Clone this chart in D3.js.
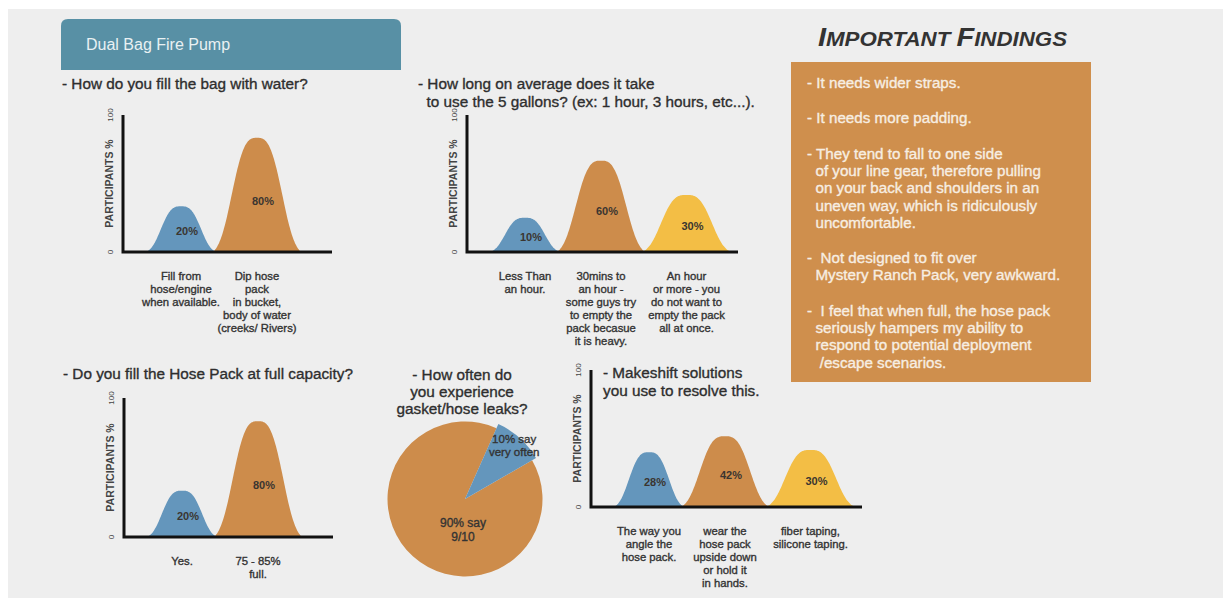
<!DOCTYPE html>
<html>
<head>
<meta charset="utf-8">
<script src="https://cdn.jsdelivr.net/npm/d3@7"></script>
<style>
  body { margin: 0; background: #ffffff; }
  text { font-family: "Liberation Sans", "Noto Sans", sans-serif; }
  .heavy { stroke-width: 0.35px; }
</style>
</head>
<body>
<div id="chart"></div>
<script>
// survey data
let fillCats = ["Fill from\nhose/engine\nwhen available.", "Dip hose\npack\nin bucket,\nbody of water\n(creeks/ Rivers)"];
let fillVals = [20, 80];

let timeCats = ["Less Than\nan hour.", "30mins to\nan hour -\nsome guys try\nto empty the\npack becasue\nit is heavy.", "An hour\nor more - you\ndo not want to\nempty the pack\nall at once."];
let timeVals = [10, 60, 30];

let capCats = ["Yes.", "75 - 85%\nfull."];
let capVals = [20, 80];

let leakLabels = ["10% say\nvery often", "90% say\n9/10"];
let leakVals = [10, 90];

let fixCats = ["The way you\nangle the\nhose pack.", "wear the\nhose pack\nupside down\nor hold it\nin hands.", "fiber taping,\nsilicone taping."];
let fixVals = [28, 42, 30];

let findings = [
  ["- It needs wider straps."],
  ["- It needs more padding."],
  ["- They tend to fall to one side", "  of your line gear, therefore pulling", "  on your back and shoulders in an", "  uneven way, which is ridiculously", "  uncomfortable."],
  ["-  Not designed to fit over", "  Mystery Ranch Pack, very awkward."],
  ["-  I feel that when full, the hose pack", "  seriously hampers my ability to", "  respond to potential deployment", "   /escape scenarios."]
];

let colors = ["#6496bc", "#cd8c4b", "#f3be45"];
let humpW = [70, 88, 89];
let W = 1223, H = 598;

let svg = d3.select("#chart").append("svg")
    .attr("width", W)
    .attr("height", H);

svg.append("rect")
    .attr("x", 8).attr("y", 9)
    .attr("width", W - 8).attr("height", H - 9)
    .attr("fill", "#eeeeee");

// header banner, rounded on top only
let bx = 61, by = 19, bw = 340, bh = 51, br = 7;
svg.append("path")
    .attr("d", "M" + bx + "," + (by + bh) + "V" + (by + br) + "Q" + bx + "," + by + " " + (bx + br) + "," + by +
               "H" + (bx + bw - br) + "Q" + (bx + bw) + "," + by + " " + (bx + bw) + "," + (by + br) + "V" + (by + bh) + "Z")
    .attr("fill", "#5890a5");
svg.append("text")
    .attr("x", 86).attr("y", 50)
    .attr("fill", "#e9f1f3")
    .attr("font-size", 16)
    .text("Dual Bag Fire Pump");

function multiText(g, x, y, str, lh, size, color, anchor, weight) {
  let t = g.append("text")
      .attr("class", "heavy")
      .attr("x", x).attr("y", y)
      .attr("font-size", size)
      .attr("fill", color)
      .attr("stroke", color)
      .attr("text-anchor", anchor || "start")
      .attr("font-weight", weight || 400)
      .style("white-space", "pre");
  str.split("\n").forEach(function(line, i) {
    t.append("tspan").attr("x", x).attr("dy", i == 0 ? 0 : lh).text(line);
  });
  return t;
}

function humpChart(cfg, cats, vals) {
  let g = svg.append("g");
  let axisY = d3.scaleLinear().domain([0, 100]).range([cfg.base, cfg.top]);
  // humps sit on a small pedestal so small values stay visible
  let humpY = d3.scaleLinear().domain([-20, 100]).range([cfg.base, cfg.top]);
  let s = 0.66, p = 3;
  let e = Math.exp(-Math.pow(1 / s, p));
  let bump = function(t) {
    return (Math.exp(-Math.pow(Math.abs(t) / s, p)) - e) / (1 - e);
  };

  let start = cfg.x + 23;
  vals.forEach(function(v, i) {
    let w = humpW[i];
    let xs = d3.scaleLinear().domain([-1, 1]).range([start, start + w]);
    let peak = humpY(v);
    let pts = d3.range(-1, 1.0001, 0.02).map(function(t) {
      return [xs(t), cfg.base - (cfg.base - peak) * bump(t)];
    });
    g.append("path")
        .attr("d", d3.line().curve(d3.curveBasis)(pts))
        .attr("fill", colors[i]);
    g.append("text")
        .attr("x", xs(0) + 6)
        .attr("y", peak + (cfg.base - peak) * 0.55 + 4)
        .attr("text-anchor", "middle")
        .attr("font-size", 11)
        .attr("font-weight", 700)
        .attr("fill", "#3a3530")
        .text(v + "%");
    multiText(g, xs(0), cfg.base + 28, cats[i], 13, 11.3, "#333333", "middle", 400);
    start = start + w - 3;
  });

  g.append("path")
      .attr("d", "M" + cfg.x + "," + axisY(100) + "V" + axisY(0) + "H" + cfg.right)
      .attr("fill", "none")
      .attr("stroke", "#111111")
      .attr("stroke-width", 3);

  [0, 100].forEach(function(tk) {
    g.append("text")
        .attr("transform", "translate(" + (cfg.x - 10) + "," + axisY(tk) + ") rotate(-90)")
        .attr("text-anchor", "middle")
        .attr("font-size", 8)
        .attr("fill", "#444")
        .text(tk);
  });
  g.append("text")
      .attr("transform", "translate(" + (cfg.x - 10) + "," + ((cfg.top + cfg.base) / 2) + ") rotate(-90)")
      .attr("text-anchor", "middle")
      .attr("font-size", 10.5)
      .attr("font-weight", 700)
      .attr("fill", "#444")
      .text("PARTICIPANTS %");
}

// questions
multiText(svg, 62, 89, "- How do you fill the bag with water?", 18, 15.3, "#2e2e2e", "start", 400);
multiText(svg, 418, 89, "- How long on average does it take\n  to use the 5 gallons? (ex: 1 hour, 3 hours, etc...).", 18, 15.3, "#2e2e2e", "start", 400);
multiText(svg, 63, 379, "- Do you fill the Hose Pack at full capacity?", 18, 15.3, "#2e2e2e", "start", 400);
multiText(svg, 462, 380, "- How often do\nyou experience\ngasket/hose leaks?", 17.2, 15.3, "#2e2e2e", "middle", 400);
multiText(svg, 603, 378, "- Makeshift solutions\nyou use to resolve this.", 18, 15.3, "#2e2e2e", "start", 400);

humpChart({x: 123, top: 115, base: 252, right: 332}, fillCats, fillVals);
humpChart({x: 467, top: 115, base: 252, right: 738}, timeCats, timeVals);
humpChart({x: 124, top: 398, base: 537, right: 333}, capCats, capVals);
humpChart({x: 591, top: 370, base: 507, right: 862}, fixCats, fixVals);

// pie
let pcx = 465, pcy = 499;
let pie = d3.pie().sort(null)
    .startAngle(24 * Math.PI / 180)
    .endAngle(24 * Math.PI / 180 + 2 * Math.PI);
let arcs = pie(leakVals);
let radii = [82, 77.5];
let pg = svg.append("g").attr("transform", "translate(" + pcx + "," + pcy + ")");
pg.selectAll("path")
    .data(arcs.slice().reverse())
    .enter().append("path")
    .attr("d", function(d) { return d3.arc().innerRadius(0).outerRadius(radii[d.index])(d); })
    .attr("fill", function(d) { return d.index == 0 ? colors[0] : colors[1]; });
let blueC = d3.arc().innerRadius(72).outerRadius(72).centroid(arcs[0]);
multiText(pg, blueC[0] + 1, blueC[1] - 3, leakLabels[0], 13, 11.5, "#333333", "middle", 400);
multiText(pg, -2, 28, leakLabels[1], 13.5, 12, "#333333", "middle", 400);

// findings
svg.append("rect")
    .attr("x", 791).attr("y", 62)
    .attr("width", 300).attr("height", 320)
    .attr("fill", "#cf8f4d");
let ft = svg.append("text")
    .attr("x", 818).attr("y", 46)
    .attr("font-style", "italic")
    .attr("font-weight", 700)
    .attr("fill", "#333333")
    .attr("textLength", 249)
    .attr("lengthAdjust", "spacingAndGlyphs");
[["I", 26], ["MPORTANT ", 20], ["F", 26], ["INDINGS", 20]].forEach(function(p) {
  ft.append("tspan").attr("font-size", p[1]).text(p[0]);
});

let fy = 88;
findings.forEach(function(block) {
  block.forEach(function(line) {
    svg.append("text")
        .attr("class", "heavy")
        .attr("x", 807).attr("y", fy)
        .attr("font-size", 15.2)
        .attr("fill", "#f7eee2")
        .attr("stroke", "#f7eee2")
        .style("white-space", "pre")
        .text(line);
    fy += 17.3;
  });
  fy += 18;
});
</script>
</body>
</html>
